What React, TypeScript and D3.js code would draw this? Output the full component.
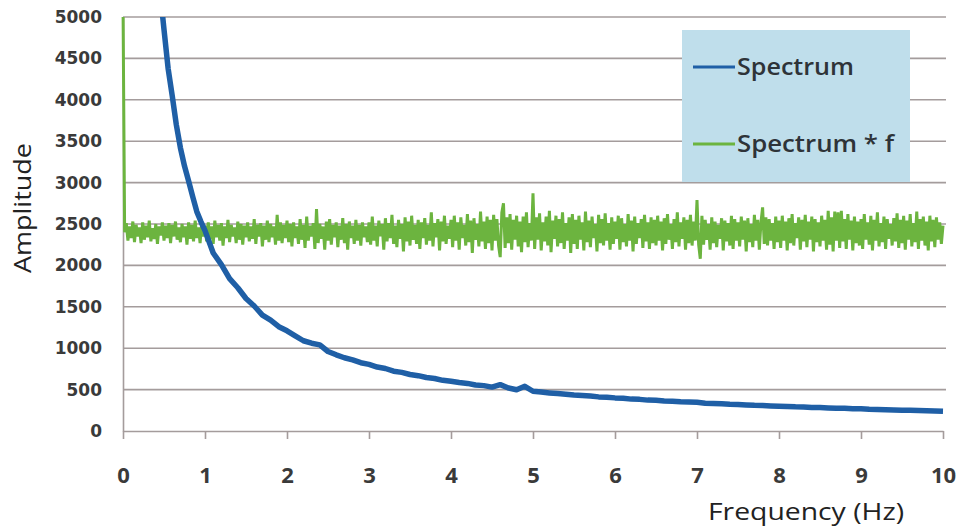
import { useEffect, useRef } from 'react'
import * as d3 from 'd3'

const W = 965
const H = 529

// Spectrum (blue): [frequency Hz, amplitude]
const spectrum: [number, number][] = [
  [0.45, 5330], [0.5, 4850], [0.55, 4380], [0.6, 4050], [0.65, 3700], [0.7, 3420], [0.75, 3200],
  [0.8, 3020], [0.85, 2830], [0.9, 2650], [0.95, 2530], [1.0, 2420],
  [1.1, 2150], [1.2, 2010], [1.3, 1840], [1.4, 1730], [1.5, 1600], [1.6, 1510], [1.7, 1400],
  [1.8, 1340], [1.9, 1260], [2.0, 1210], [2.1, 1150], [2.2, 1090], [2.3, 1060], [2.4, 1040],
  [2.5, 960], [2.6, 920], [2.7, 885], [2.8, 860], [2.9, 825], [3.0, 805], [3.1, 772],
  [3.2, 755], [3.3, 722], [3.4, 708], [3.5, 682], [3.6, 668], [3.7, 646], [3.8, 634],
  [3.9, 612], [4.0, 600], [4.1, 585], [4.2, 575], [4.3, 555], [4.4, 548], [4.5, 530],
  [4.6, 560], [4.7, 520], [4.8, 498], [4.9, 540], [5.0, 480], [5.1, 470], [5.2, 460],
  [5.3, 452], [5.4, 445], [5.5, 435], [5.6, 428], [5.7, 422], [5.8, 412], [5.9, 408],
  [6.0, 400], [6.1, 395], [6.2, 385], [6.3, 382], [6.4, 373], [6.5, 370], [6.6, 363],
  [6.7, 360], [6.8, 352], [6.9, 350], [7.0, 348], [7.1, 336], [7.2, 333], [7.3, 328],
  [7.4, 322], [7.5, 320], [7.6, 315], [7.7, 310], [7.8, 308], [7.9, 303], [8.0, 300],
  [8.1, 297], [8.2, 292], [8.3, 290], [8.4, 285], [8.5, 283], [8.6, 279], [8.7, 275],
  [8.8, 274], [8.9, 269], [9.0, 268], [9.1, 262], [9.2, 260], [9.3, 258], [9.4, 254],
  [9.5, 252], [9.6, 250], [9.7, 247], [9.8, 244], [9.9, 243], [10.0, 240],
]

// Spectrum * f (green), sampled every 0.02 Hz from 0 to 10 (one row = 0.5 Hz)
const GREEN_STEP = 0.02
const spectrumTimesF: number[] = [
  5200, 2400, 2510, 2300, 2470, 2330, 2530, 2280, 2490, 2350, 2460, 2270, 2520, 2310, 2480, 2340, 2540, 2290, 2450, 2320, 2500, 2260, 2470, 2360, 2520,
  2300, 2480, 2330, 2510, 2270, 2490, 2350, 2530, 2310, 2460, 2280, 2500, 2340, 2470, 2250, 2520, 2320, 2490, 2290, 2540, 2330, 2460, 2270, 2510, 2350,
  2480, 2290, 2520, 2320, 2470, 2260, 2540, 2340, 2490, 2300, 2510, 2240, 2470, 2330, 2550, 2280, 2490, 2350, 2460, 2270, 2530, 2310, 2500, 2250, 2480,
  2340, 2520, 2290, 2470, 2320, 2560, 2260, 2490, 2350, 2510, 2230, 2480, 2310, 2540, 2280, 2500, 2340, 2470, 2250, 2610, 2300, 2520, 2270, 2490, 2330,
  2540, 2280, 2500, 2230, 2520, 2330, 2470, 2260, 2560, 2310, 2490, 2210, 2590, 2300, 2480, 2350, 2510, 2200, 2680, 2270, 2500, 2320, 2470, 2190, 2530,
  2300, 2560, 2250, 2490, 2340, 2520, 2220, 2480, 2310, 2570, 2270, 2500, 2190, 2530, 2330, 2480, 2260, 2550, 2300, 2490, 2240, 2520, 2340, 2470, 2280,
  2520, 2250, 2590, 2300, 2480, 2230, 2540, 2350, 2500, 2190, 2570, 2290, 2510, 2330, 2610, 2260, 2480, 2220, 2550, 2320, 2500, 2170, 2580, 2290, 2530,
  2240, 2600, 2310, 2490, 2260, 2550, 2200, 2520, 2330, 2570, 2250, 2490, 2300, 2640, 2230, 2510, 2340, 2560, 2180, 2530, 2290, 2600, 2260, 2480, 2320,
  2550, 2220, 2600, 2300, 2520, 2190, 2580, 2330, 2490, 2240, 2620, 2280, 2540, 2150, 2570, 2310, 2500, 2230, 2650, 2290, 2530, 2200, 2590, 2270, 2550,
  2180, 2610, 2300, 2560, 2240, 2100, 2640, 2750, 2210, 2580, 2270, 2620, 2190, 2550, 2310, 2600, 2230, 2530, 2160, 2590, 2280, 2640, 2220, 2510, 2300,
  2870, 2200, 2580, 2310, 2630, 2180, 2520, 2290, 2590, 2240, 2660, 2160, 2540, 2320, 2600, 2230, 2560, 2270, 2640, 2200, 2510, 2300, 2580, 2150, 2620,
  2260, 2550, 2200, 2600, 2310, 2520, 2180, 2650, 2280, 2540, 2220, 2590, 2330, 2500, 2170, 2610, 2270, 2560, 2240, 2630, 2300, 2510, 2190, 2580, 2260,
  2530, 2320, 2600, 2190, 2570, 2280, 2500, 2230, 2620, 2300, 2540, 2170, 2590, 2260, 2510, 2330, 2560, 2210, 2610, 2290, 2520, 2200, 2580, 2270, 2550,
  2240, 2600, 2300, 2530, 2180, 2570, 2260, 2620, 2310, 2500, 2200, 2560, 2280, 2640, 2230, 2520, 2320, 2580, 2190, 2550, 2270, 2610, 2240, 2530, 2300,
  2790, 2250, 2080, 2600, 2250, 2550, 2310, 2500, 2190, 2580, 2270, 2530, 2220, 2490, 2320, 2570, 2180, 2540, 2290, 2510, 2240, 2600, 2200, 2560, 2300,
  2520, 2230, 2590, 2310, 2540, 2170, 2570, 2280, 2500, 2220, 2610, 2300, 2550, 2190, 2520, 2700, 2260, 2580, 2240, 2560, 2300, 2510, 2200, 2590, 2280,
  2540, 2210, 2600, 2300, 2530, 2180, 2570, 2270, 2620, 2240, 2510, 2330, 2580, 2190, 2550, 2290, 2610, 2220, 2530, 2310, 2590, 2170, 2560, 2280, 2520,
  2230, 2600, 2300, 2550, 2190, 2660, 2250, 2580, 2170, 2650, 2300, 2640, 2210, 2660, 2290, 2560, 2200, 2620, 2310, 2540, 2180, 2590, 2270, 2530, 2240,
  2560, 2200, 2620, 2310, 2520, 2250, 2600, 2180, 2550, 2300, 2640, 2230, 2510, 2280, 2590, 2200, 2560, 2320, 2500, 2240, 2570, 2290, 2630, 2210, 2550,
  2270, 2600, 2190, 2540, 2310, 2620, 2230, 2510, 2280, 2650, 2200, 2560, 2300, 2590, 2240, 2530, 2180, 2600, 2290, 2550, 2220, 2580, 2310, 2520, 2260,
  2480,
]

const xTicks = [0, 1, 2, 3, 4, 5, 6, 7, 8, 9, 10]
const yTicks = [0, 500, 1000, 1500, 2000, 2500, 3000, 3500, 4000, 4500, 5000]

const legendItems = [
  { label: 'Spectrum', color: '#1f5fa6', width: 117 },
  { label: 'Spectrum * f', color: '#6cb43f', width: 157 },
]

export default function App() {
  const svgRef = useRef<SVGSVGElement>(null)

  useEffect(() => {
    const svg = d3.select(svgRef.current)
    svg.selectAll('*').remove()

    const x = d3.scaleLinear().domain([0, 10]).range([123, 943])
    const y = d3.scaleLinear().domain([0, 5000]).range([431, 17])
    const grid = '#a49c9c'

    svg.append('rect').attr('width', W).attr('height', H).attr('fill', '#ffffff')

    svg.append('defs').append('clipPath').attr('id', 'plot')
      .append('rect').attr('x', 120).attr('y', 17).attr('width', 830).attr('height', 420)

    // grid
    svg.append('g')
      .selectAll('line')
      .data(yTicks.filter(t => t > 0))
      .join('line')
      .attr('x1', x(0)).attr('x2', x(10) + 3)
      .attr('y1', d => y(d)).attr('y2', d => y(d))
      .attr('stroke', grid).attr('stroke-width', 1.6)

    // y axis labels
    svg.append('g')
      .attr('transform', `translate(${x(0)},0)`)
      .call(d3.axisLeft(y).tickValues(yTicks).tickFormat(d3.format('d')).tickSize(0).tickPadding(21))
      .call(ag => {
        ag.select('.domain').attr('stroke', grid).attr('stroke-width', 1.6)
        ag.selectAll('text')
          .attr('fill', '#3a3a3a').attr('font-size', 17).attr('font-weight', 'bold')
          .attr('font-family', '"DejaVu Sans"')
      })

    // x axis
    svg.append('g')
      .attr('transform', `translate(0,${y(0)})`)
      .call(d3.axisBottom(x).tickValues(xTicks).tickSize(8).tickPadding(28).tickSizeOuter(0))
      .call(ag => {
        ag.select('.domain').attr('stroke', grid).attr('stroke-width', 1.6)
        ag.selectAll('.tick line').attr('stroke', grid).attr('stroke-width', 1.6)
        ag.selectAll('text')
          .attr('fill', '#3a3a3a').attr('font-size', 22).attr('font-weight', 'bold')
          .attr('font-family', '"Open Sans", sans-serif')
      })

    const plot = svg.append('g').attr('clip-path', 'url(#plot)')

    const greenLine = d3.line<number>()
      .x((_, i) => x(i * GREEN_STEP))
      .y(d => y(d))
    plot.append('path').datum(spectrumTimesF)
      .attr('fill', 'none').attr('stroke', legendItems[1].color)
      .attr('stroke-width', 3).attr('stroke-linejoin', 'bevel')
      .attr('d', greenLine)

    const blueLine = d3.line<[number, number]>()
      .x(d => x(d[0]))
      .y(d => y(d[1]))
    plot.append('path').datum(spectrum)
      .attr('fill', 'none').attr('stroke', legendItems[0].color)
      .attr('stroke-width', 5.5).attr('stroke-linejoin', 'round')
      .attr('d', blueLine)

    // legend
    const lg = svg.append('g')
    lg.append('rect')
      .attr('x', 682).attr('y', 30).attr('width', 228).attr('height', 152)
      .attr('fill', '#bfdeeb')
    legendItems.forEach((it, i) => {
      const ly = 67 + i * 77
      lg.append('line')
        .attr('x1', 693).attr('x2', 735).attr('y1', ly).attr('y2', ly)
        .attr('stroke', it.color).attr('stroke-width', 3)
      lg.append('text')
        .attr('x', 737).attr('y', ly + 8)
        .attr('font-family', '"Open Sans", sans-serif').attr('font-size', 24)
        .attr('font-weight', 600).attr('fill', '#2e3338')
        .attr('textLength', it.width).attr('lengthAdjust', 'spacingAndGlyphs')
        .text(it.label)
    })

    // axis titles
    svg.append('text')
      .attr('x', 708).attr('y', 520)
      .attr('font-family', '"Open Sans", sans-serif').attr('font-size', 24)
      .attr('fill', '#222').attr('textLength', 196).attr('lengthAdjust', 'spacingAndGlyphs')
      .text('Frequency (Hz)')
    svg.append('text')
      .attr('transform', 'translate(31,273) rotate(-90)')
      .attr('font-family', '"Open Sans", sans-serif').attr('font-size', 24)
      .attr('fill', '#222').attr('textLength', 130).attr('lengthAdjust', 'spacingAndGlyphs')
      .text('Amplitude')
  }, [])

  return (
    <div style={{ position: 'fixed', left: 0, top: 0 }}>
      <svg ref={svgRef} width={W} height={H} style={{ display: 'block' }} />
    </div>
  )
}
